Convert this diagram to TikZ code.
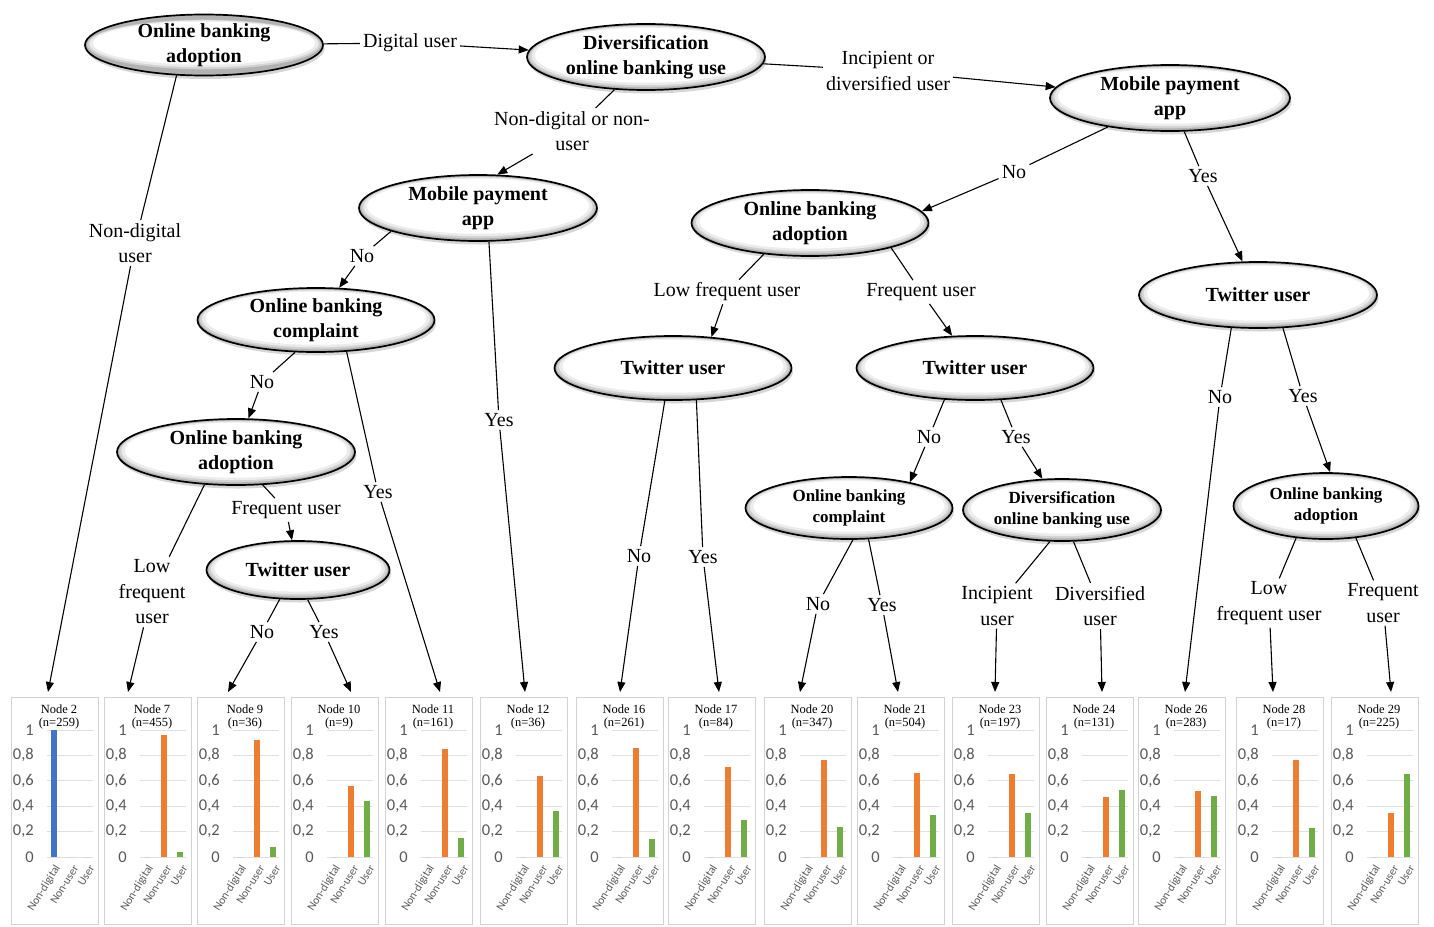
\documentclass[tikz,border=0pt]{standalone}
\usepackage{fontspec}
\setmainfont{Liberation Serif}
\newfontfamily\calibri{Carlito}
\usetikzlibrary{shapes.geometric,arrows.meta,shadows}
\definecolor{ndcol}{RGB}{68,114,196}
\definecolor{nucol}{RGB}{237,125,49}
\definecolor{ucol}{RGB}{112,173,71}
\definecolor{axgray}{RGB}{89,89,89}
\tikzset{
  ell/.style={ellipse, draw=black, line width=1.7pt, fill=gray!60,
    drop shadow={opacity=.45, fill=gray!70, shadow xshift=1.5pt, shadow yshift=-3.5pt},
    path picture={
      \fill[gray!35] ([yshift=0.5pt]path picture bounding box.center) ellipse
        [x radius={\pgfkeysvalueof{/pgf/minimum width}/2-2.2pt}, y radius={\pgfkeysvalueof{/pgf/minimum height}/2-2.2pt}];
      \fill[gray!15] ([yshift=1.2pt]path picture bounding box.center) ellipse
        [x radius={\pgfkeysvalueof{/pgf/minimum width}/2-4.5pt}, y radius={\pgfkeysvalueof{/pgf/minimum height}/2-3.6pt}];
      \fill[white] ([yshift=1.8pt]path picture bounding box.center) ellipse
        [x radius={\pgfkeysvalueof{/pgf/minimum width}/2-8pt}, y radius={\pgfkeysvalueof{/pgf/minimum height}/2-5.5pt}];
    },
    inner sep=0pt, align=center, font=\fontsize{20}{25}\selectfont\bfseries},
  ells/.style={ell, font=\fontsize{17}{21}\selectfont\bfseries},
  lbl/.style={inner sep=3pt, align=center, font=\fontsize{20}{25.5}\selectfont},
  conn/.style={line width=1.1pt},
  arr/.style={conn, -{Triangle[length=10pt,width=8pt]}},
  panelbox/.style={draw=gray!35, line width=0.8pt, minimum width=87pt, minimum height=227pt, inner sep=0pt},
  gridln/.style={draw=gray!25, line width=0.8pt},
  ticklbl/.style={inner sep=0pt, text=axgray, font=\calibri\fontsize{16.5}{16.5}\selectfont},
  ttl/.style={inner sep=0pt, align=center, font=\fontsize{12.5}{13}\selectfont},
  catlbl/.style={inner sep=0pt, rotate=58, anchor=east, text=axgray, font=\calibri\fontsize{11.5}{12}\selectfont},
}
\newcommand\chartpanel[7]{%
\begin{scope}[shift={(#1,0)}]
\node[panelbox, anchor=north west] (#2) at (0,697) {};
\foreach \v/\t in {0/0,0.2/{0,2},0.4/{0,4},0.6/{0,6},0.8/{0,8},1/1}{
  \draw[gridln] (36,{857-127*\v}) -- (82,{857-127*\v});
  \node[ticklbl, anchor=east] at (23,{857-127*\v}) {\t};
}
\fill[ndcol] (39.5,857) rectangle (45.5,{857-127*#5});
\fill[nucol] (57,857) rectangle (63,{857-127*#6});
\fill[ucol] (73,857) rectangle (79,{857-127*#7});
\node[ttl] at (48,716.5) {Node #3\\(n=#4)};
\node[catlbl] at (47,866) {Non-digital};
\node[catlbl] at (65,866) {Non-user};
\node[catlbl] at (81,866) {User};
\end{scope}}
\begin{document}
\begin{tikzpicture}[x=1pt,y=-1pt]
\fill[white] (0,0) rectangle (1434,926);
\useasboundingbox (0,0) rectangle (1434,926);

% ---------- chart panels ----------
\chartpanel{11}{p2}{2}{259}{1}{0}{0}
\chartpanel{104}{p7}{7}{455}{0}{0.96}{0.04}
\chartpanel{197}{p9}{9}{36}{0}{0.92}{0.08}
\chartpanel{291}{p10}{10}{9}{0}{0.56}{0.44}
\chartpanel{385}{p11}{11}{161}{0}{0.85}{0.15}
\chartpanel{480}{p12}{12}{36}{0}{0.64}{0.36}
\chartpanel{576}{p16}{16}{261}{0}{0.86}{0.14}
\chartpanel{668}{p17}{17}{84}{0}{0.71}{0.29}
\chartpanel{764}{p20}{20}{347}{0}{0.76}{0.24}
\chartpanel{857}{p21}{21}{504}{0}{0.66}{0.33}
\chartpanel{952}{p23}{23}{197}{0}{0.65}{0.35}
\chartpanel{1046}{p24}{24}{131}{0}{0.47}{0.53}
\chartpanel{1138}{p26}{26}{283}{0}{0.52}{0.48}
\chartpanel{1236}{p28}{28}{17}{0}{0.76}{0.23}
\chartpanel{1331}{p29}{29}{225}{0}{0.35}{0.65}

% arrow targets above panels
\coordinate (t2) at (48,692);
\coordinate (t7) at (128,692);
\coordinate (t9) at (228,692);
\coordinate (t10) at (351,692);
\coordinate (t11) at (440,692);
\coordinate (t12) at (525,692);
\coordinate (t16) at (620,692);
\coordinate (t17) at (719,692);
\coordinate (t20) at (800,692);
\coordinate (t21) at (898,692);
\coordinate (t23) at (995,692);
\coordinate (t24) at (1102,692);
\coordinate (t26) at (1185,692);
\coordinate (t28) at (1273,692);
\coordinate (t29) at (1391,692);

% ---------- tree nodes ----------
\node[ell, minimum width=238pt, minimum height=54pt] (e1) at (204,45) {Online banking\\adoption};
\node[ell, minimum width=238pt, minimum height=66pt] (e2) at (646,57) {Diversification\\online banking use};
\node[ell, minimum width=240pt, minimum height=66pt] (e3) at (1170,98) {Mobile payment\\app};
\node[ell, minimum width=238pt, minimum height=66pt] (e4) at (478,208) {Mobile payment\\app};
\node[ell, minimum width=237pt, minimum height=66pt] (e5) at (810,223) {Online banking\\adoption};
\node[ell, minimum width=238pt, minimum height=66pt] (e6) at (1258,295) {Twitter user};
\node[ell, minimum width=237pt, minimum height=64pt] (e7) at (316,320) {Online banking\\complaint};
\node[ell, minimum width=237pt, minimum height=64pt] (e8) at (673,368) {Twitter user};
\node[ell, minimum width=237pt, minimum height=64pt] (e9) at (975,368) {Twitter user};
\node[ell, minimum width=238pt, minimum height=66pt] (e10) at (236,452) {Online banking\\adoption};
\node[ell, minimum width=183pt, minimum height=58pt] (e11) at (298,570) {Twitter user};
\node[ells, minimum width=207pt, minimum height=62pt] (e12) at (849,508) {Online banking\\complaint};
\node[ells, minimum width=198pt, minimum height=62pt] (e13) at (1062,510) {Diversification\\online banking use};
\node[ells, minimum width=185pt, minimum height=66pt] (e14) at (1326,506) {Online banking\\adoption};

% ---------- edge labels ----------
\node[lbl] (l1) at (410,43) {Digital user};
\node[lbl] (l2) at (135,243) {Non-digital\\user};
\node[lbl] (l3) at (572,131) {Non-digital or non-\\user};
\node[lbl] (l4) at (888,71) {Incipient or\\diversified user};
\node[lbl] (l5) at (1014,172) {No};
\node[lbl] (l6) at (1203,176) {Yes};
\node[lbl] (l7) at (362,256) {No};
\node[lbl] (l8) at (499,420) {Yes};
\node[lbl] (l9) at (262,382) {No};
\node[lbl] (l10) at (378,492) {Yes};
\node[lbl] (l11) at (152,592) {Low\\frequent\\user};
\node[lbl] (l12) at (286,510) {Frequent user};
\node[lbl] (l13) at (262,632) {No};
\node[lbl] (l14) at (324,632) {Yes};
\node[lbl] (l15) at (727,292) {Low frequent user};
\node[lbl] (l16) at (921,292) {Frequent user};
\node[lbl] (l17) at (639,556) {No};
\node[lbl] (l18) at (703,557) {Yes};
\node[lbl] (l19) at (929,437) {No};
\node[lbl] (l20) at (1016,437) {Yes};
\node[lbl] (l21) at (818,604) {No};
\node[lbl] (l22) at (882,605) {Yes};
\node[lbl] (l23) at (997,606) {Incipient\\user};
\node[lbl] (l24) at (1100,606) {Diversified\\user};
\node[lbl] (l25) at (1220,397) {No};
\node[lbl] (l26) at (1303,396) {Yes};
\node[lbl] (l27) at (1269,603) {Low\\frequent user};
\node[lbl] (l28) at (1383,603) {Frequent\\user};

% ---------- connectors ----------
\draw[conn] (e1) -- (l1);          \draw[arr] (l1) -- (e2);
\draw[conn] (e1.-132) -- (l2);     \draw[arr] (l2) -- (t2);
\draw[conn] (e2.-134) -- (l3);     \draw[arr] (l3) -- (e4.60);
\draw[conn] (e2) -- (l4);          \draw[arr] (l4) -- (e3);
\draw[conn] (e3.-155) -- (l5);     \draw[arr] (l5) -- (e5.6);
\draw[conn] (e3) -- (l6);          \draw[arr] (l6) -- (e6);
\draw[conn] (e4.-165) -- (l7);     \draw[arr] (l7) -- (e7);
\draw[conn] (e4.-72) -- (l8);      \draw[arr] (l8) -- (t12);
\draw[conn] (e7.-123) -- (l9);     \draw[arr] (l9) -- (e10);
\draw[conn] (e7.-46) -- (l10);     \draw[arr] (l10) -- (t11);
\draw[conn] (e10.-134) -- (l11);   \draw[arr] (l11) -- (t7);
\draw[conn] (e10.-51) -- (l12);    \draw[arr] (l12) -- (e11);
\draw[conn] (e11.-122) -- (l13);   \draw[arr] (l13) -- (t9);
\draw[conn] (e11.-72) -- (l14);    \draw[arr] (l14) -- (t10);
\draw[conn] (e5.-146) -- (l15);    \draw[arr] (l15) -- (e8.39);
\draw[conn] (e5.-17) -- (l16);     \draw[arr] (l16) -- (e9);
\draw[conn] (e8.-104) -- (l17);    \draw[arr] (l17) -- (t16);
\draw[conn] (e8.-54) -- (l18);     \draw[arr] (l18) -- (t17);
\draw[conn] (e9.-134) -- (l19);    \draw[arr] (l19) -- (e12.23);
\draw[conn] (e9.-51) -- (l20);     \draw[arr] (l20) -- (e13);
\draw[conn] (e12.-83) -- (l21);    \draw[arr] (l21) -- (t20);
\draw[conn] (e12.-58) -- (l22);    \draw[arr] (l22) -- (t21);
\draw[conn] (e13.-111) -- (l23);   \draw[arr] (l23) -- (t23);
\draw[conn] (e13.-70) -- (l24);    \draw[arr] (l24) -- (t24);
\draw[conn] (e6.-129) -- (l25);    \draw[arr] (l25) -- (t26);
\draw[conn] (e6.-53) -- (l26);     \draw[arr] (l26) -- (e14.83);
\draw[conn] (e14.-133) -- (l27);   \draw[arr] (l27) -- (t28);
\draw[conn] (e14.-47) -- (l28);    \draw[arr] (l28) -- (t29);
\end{tikzpicture}
\end{document}
